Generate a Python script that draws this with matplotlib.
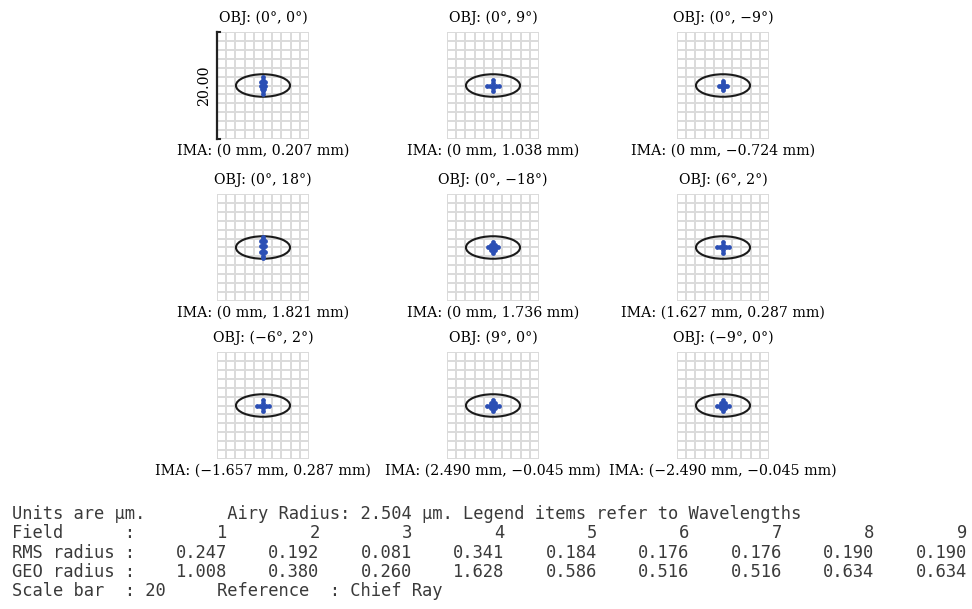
import matplotlib
matplotlib.use("Agg")
import matplotlib.pyplot as plt
from matplotlib.patches import Ellipse
import numpy as np

# Field definitions
obj_labels = ["OBJ: (0°, 0°)", "OBJ: (0°, 9°)", "OBJ: (0°, −9°)",
              "OBJ: (0°, 18°)", "OBJ: (0°, −18°)", "OBJ: (6°, 2°)",
              "OBJ: (−6°, 2°)", "OBJ: (9°, 0°)", "OBJ: (−9°, 0°)"]
ima_labels = ["IMA: (0 mm, 0.207 mm)", "IMA: (0 mm, 1.038 mm)", "IMA: (0 mm, −0.724 mm)",
              "IMA: (0 mm, 1.821 mm)", "IMA: (0 mm, 1.736 mm)", "IMA: (1.627 mm, 0.287 mm)",
              "IMA: (−1.657 mm, 0.287 mm)", "IMA: (2.490 mm, −0.045 mm)", "IMA: (−2.490 mm, −0.045 mm)"]

fields = [1, 2, 3, 4, 5, 6, 7, 8, 9]
rms_radius = [0.247, 0.192, 0.081, 0.341, 0.184, 0.176, 0.176, 0.190, 0.190]
geo_radius = [1.008, 0.380, 0.260, 1.628, 0.586, 0.516, 0.516, 0.634, 0.634]
scale_bar = 20
airy_w, airy_h = 9.8, 4.2   # drawn airy ellipse (um, as it appears on the plot)

# spot diagram ray hits (um, relative to chief ray)
spot_x = [
    [0, 0, 0, 0, 0, 0, 0, -0.4, 0.4, -0.3, 0.3, -0.2, 0.2, 0],
    [0, 0, 0, 0, 0, -0.5, -1.0, 0.5, 1.0],
    [0, 0, 0, 0, 0, -0.4, -0.8, 0.4, 0.8],
    [0, 0, 0, 0, 0, 0, 0, 0, 0, -0.4, 0.4, -0.35, 0.35, -0.3, 0.3],
    [0, 0, 0, 0, 0, -0.5, 0.5, -0.9, 0.9, -0.4, 0.4, -0.4, 0.4],
    [0, 0, 0, 0, 0, -0.5, -1.0, 0.5, 1.0, 0],
    [0, 0, 0, 0, 0, -0.5, -1.0, 0.5, 1.0, 0],
    [0, 0, 0, 0, 0, -0.5, 0.5, -1.0, 1.0, -0.4, 0.4, -0.4, 0.4],
    [0, 0, 0, 0, 0, -0.5, 0.5, -1.0, 1.0, -0.4, 0.4, -0.4, 0.4],
]
spot_y = [
    [1.5, 1.0, 0.5, 0, -0.5, -1.0, -1.5, 0.6, 0.6, 0, 0, -0.6, -0.6, 0.8],
    [1.0, 0.5, 0, -0.5, -1.0, 0, 0, 0, 0],
    [0.8, 0.4, 0, -0.4, -0.8, 0, 0, 0, 0],
    [2.0, 1.5, 1.0, 0.5, 0, -0.5, -1.0, -1.5, -2.0, 1.2, 1.2, 0.2, 0.2, -0.8, -0.8],
    [1.0, 0.5, 0, -0.5, -1.0, 0, 0, 0, 0, 0.5, 0.5, -0.5, -0.5],
    [1.0, 0.5, 0, -0.5, -1.0, 0, 0, 0, 0, 0],
    [1.0, 0.5, 0, -0.5, -1.0, 0, 0, 0, 0, 0],
    [1.1, 0.5, 0, -0.5, -1.1, 0, 0, 0, 0, 0.5, 0.5, -0.5, -0.5],
    [1.1, 0.5, 0, -0.5, -1.1, 0, 0, 0, 0, 0.5, 0.5, -0.5, -0.5],
]

W, H = 972, 609
fig = plt.figure(figsize=(W / 100, H / 100), dpi=100)
fig.patch.set_facecolor("white")

serif = "DejaVu Serif"
mono = "DejaVu Sans Mono"
spot_color = "#2b4fb5"
grid_color = "#dadada"
title_fs = 10.2

col_cx = [263, 493, 723]
row_top = [32, 194, 352]
box_w, box_h = 92, 107
half = scale_bar / 2
xhalf = half * 10 / 12   # 10 columns x 12 rows of grid cells

for i in range(9):
    r, c = divmod(i, 3)
    cx = col_cx[c]
    top = row_top[r]
    ax = fig.add_axes([(cx - box_w / 2) / W, 1 - (top + box_h) / H, box_w / W, box_h / H])
    ax.set_xlim(-xhalf, xhalf)
    ax.set_ylim(-half, half)
    for gx in np.linspace(-xhalf, xhalf, 11):
        ax.axvline(gx, color=grid_color, lw=1.4, zorder=1)
    for gy in np.linspace(-half, half, 13):
        ax.axhline(gy, color=grid_color, lw=1.4, zorder=1)
    ax.add_patch(Ellipse((0, 0), airy_w, airy_h, fill=False, ec="#1a1a1a", lw=1.5, zorder=3))
    ax.scatter(spot_x[i], spot_y[i], s=12, color=spot_color, lw=0, zorder=4)
    ax.set_xticks([])
    ax.set_yticks([])
    for sp in ax.spines.values():
        sp.set_visible(False)

    fig.text(cx / W, 1 - (top - 14) / H, obj_labels[i], family=serif, fontsize=title_fs,
             ha="center", va="center")
    fig.text(cx / W, 1 - (top + box_h + 12) / H, ima_labels[i], family=serif, fontsize=title_fs,
             ha="center", va="center")

    if i == 0:
        # scale bar along the left edge of the first panel
        ax.plot([-xhalf, -xhalf], [-half, half], color="#222222", lw=1.6,
                clip_on=False, zorder=5)
        ax.plot([-xhalf, -xhalf + 0.5], [half, half], color="#222222", lw=1.5, clip_on=False)
        ax.plot([-xhalf, -xhalf + 0.5], [-half, -half], color="#222222", lw=1.5, clip_on=False)
        fig.text(204 / W, 1 - (top + box_h / 2) / H, f"{scale_bar:.2f}", family=serif,
                 fontsize=title_fs, rotation=90, ha="center", va="center")

# text block below the spots
txt = dict(family=mono, fontsize=12.3, color="#3a3a3a", va="center")
line_y = [514, 533, 553, 572, 591]
col_right = [227 + 92.5 * k for k in range(9)]

fig.text(12 / W, 1 - line_y[0] / H,
         "Units are µm.        Airy Radius: 2.504 µm. Legend items refer to Wavelengths", **txt)
fig.text(12 / W, 1 - line_y[1] / H, "Field      :", **txt)
fig.text(12 / W, 1 - line_y[2] / H, "RMS radius :", **txt)
fig.text(12 / W, 1 - line_y[3] / H, "GEO radius :", **txt)
fig.text(12 / W, 1 - line_y[4] / H,
         f"Scale bar  : {scale_bar}     Reference  : Chief Ray", **txt)
for k in range(9):
    x = col_right[k] / W
    fig.text(x, 1 - line_y[1] / H, str(fields[k]), ha="right", **txt)
    fig.text(x, 1 - line_y[2] / H, f"{rms_radius[k]:.3f}", ha="right", **txt)
    fig.text(x, 1 - line_y[3] / H, f"{geo_radius[k]:.3f}", ha="right", **txt)

fig.savefig("out.png", dpi=100)
